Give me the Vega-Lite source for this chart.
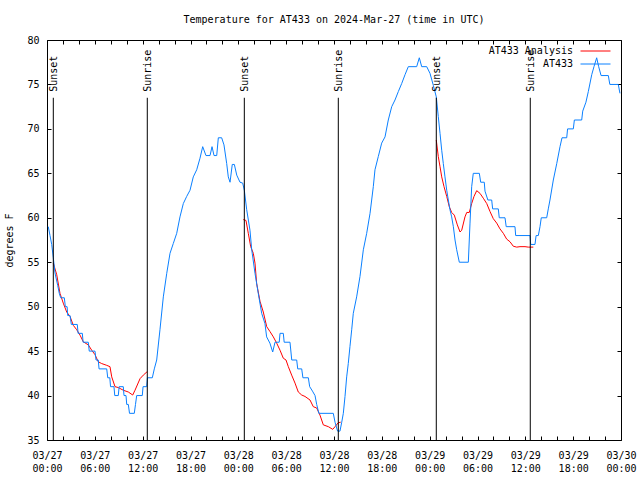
{
  "$schema": "https://vega.github.io/schema/vega-lite/v6.json",
  "width": 574,
  "height": 400,
  "autosize": {"type": "none"},
  "padding": {"left": 47, "top": 40, "right": 19, "bottom": 40},
  "background": "white",
  "title": {"text": "Temperature for AT433 on 2024-Mar-27 (time in UTC)", "font": "DejaVu Sans Mono", "fontSize": 10, "fontWeight": "normal", "color": "black", "offset": 10, "anchor": "middle"},
  "config": {
    "view": {"stroke": "black", "strokeWidth": 1},
    "axis": {"domain": false, "grid": false, "tickColor": "black", "tickSize": -4, "labelFont": "DejaVu Sans Mono", "labelFontSize": 10, "labelColor": "black", "titleFont": "DejaVu Sans Mono", "titleFontSize": 10, "titleFontWeight": "normal", "titleColor": "black", "labelFlush": false, "labelOverlap": false, "labelBound": false}
  },
  "datasets": {
    "obs": [
      {"hour": 0.16, "temp": 59}, {"hour": 0.38, "temp": 58}, {"hour": 0.59, "temp": 57}, {"hour": 0.79, "temp": 55.5}, {"hour": 1.0, "temp": 53.8}, {"hour": 1.34, "temp": 52.4}, {"hour": 1.54, "temp": 51.5}, {"hour": 1.72, "temp": 51}, {"hour": 2.17, "temp": 51}, {"hour": 2.3, "temp": 50}, {"hour": 2.52, "temp": 50}, {"hour": 2.6, "temp": 49}, {"hour": 2.89, "temp": 49}, {"hour": 3.05, "temp": 48}, {"hour": 3.8, "temp": 48}, {"hour": 3.9, "temp": 47}, {"hour": 4.43, "temp": 47}, {"hour": 4.53, "temp": 46}, {"hour": 5.18, "temp": 46}, {"hour": 5.3, "temp": 45}, {"hour": 6.02, "temp": 45}, {"hour": 6.15, "temp": 44},
      {"hour": 6.43, "temp": 44}, {"hour": 6.53, "temp": 43}, {"hour": 7.49, "temp": 43}, {"hour": 7.62, "temp": 42}, {"hour": 7.88, "temp": 42}, {"hour": 7.97, "temp": 41}, {"hour": 8.4, "temp": 41}, {"hour": 8.5, "temp": 40}, {"hour": 8.94, "temp": 40}, {"hour": 9.05, "temp": 41}, {"hour": 9.57, "temp": 41}, {"hour": 9.66, "temp": 40}, {"hour": 9.91, "temp": 40}, {"hour": 10.0, "temp": 39}, {"hour": 10.2, "temp": 39}, {"hour": 10.35, "temp": 38}, {"hour": 10.95, "temp": 38}, {"hour": 11.1, "temp": 39}, {"hour": 11.25, "temp": 40}, {"hour": 11.95, "temp": 40}, {"hour": 12.05, "temp": 41},
      {"hour": 12.5, "temp": 41}, {"hour": 12.6, "temp": 42}, {"hour": 13.21, "temp": 42}, {"hour": 13.46, "temp": 43}, {"hour": 13.76, "temp": 44}, {"hour": 14.17, "temp": 47.4}, {"hour": 14.59, "temp": 51.1}, {"hour": 15.02, "temp": 53.75}, {"hour": 15.43, "temp": 56}, {"hour": 15.84, "temp": 57.1}, {"hour": 16.27, "temp": 58.25}, {"hour": 16.68, "temp": 60.1}, {"hour": 17.1, "temp": 61.6}, {"hour": 17.52, "temp": 62.4}, {"hour": 17.94, "temp": 63.1}, {"hour": 18.35, "temp": 64.6}, {"hour": 18.78, "temp": 65.4}, {"hour": 19.19, "temp": 66.7},
      {"hour": 19.53, "temp": 68}, {"hour": 19.94, "temp": 67}, {"hour": 20.45, "temp": 67}, {"hour": 20.7, "temp": 68}, {"hour": 20.95, "temp": 67}, {"hour": 21.29, "temp": 67}, {"hour": 21.49, "temp": 69}, {"hour": 21.91, "temp": 69}, {"hour": 22.2, "temp": 68.2}, {"hour": 22.54, "temp": 66.1}, {"hour": 22.74, "temp": 64.6}, {"hour": 22.96, "temp": 64}, {"hour": 23.24, "temp": 66}, {"hour": 23.5, "temp": 66}, {"hour": 23.8, "temp": 64.8}, {"hour": 24.21, "temp": 64}, {"hour": 24.55, "temp": 63.9}, {"hour": 24.75, "temp": 63.1},
      {"hour": 25.05, "temp": 60.9}, {"hour": 25.46, "temp": 58.6}, {"hour": 25.68, "temp": 56.4}, {"hour": 26.09, "temp": 53.75}, {"hour": 26.5, "temp": 51.5}, {"hour": 26.93, "temp": 49.25}, {"hour": 27.34, "temp": 48.1}, {"hour": 27.55, "temp": 46.6}, {"hour": 27.96, "temp": 45.9}, {"hour": 28.31, "temp": 44.9}, {"hour": 28.6, "temp": 46}, {"hour": 29.13, "temp": 46}, {"hour": 29.23, "temp": 47}, {"hour": 29.64, "temp": 47}, {"hour": 29.75, "temp": 46}, {"hour": 30.48, "temp": 46},
      {"hour": 30.7, "temp": 44}, {"hour": 31.32, "temp": 44}, {"hour": 31.45, "temp": 43}, {"hour": 31.95, "temp": 43}, {"hour": 32.1, "temp": 42}, {"hour": 32.78, "temp": 42}, {"hour": 32.95, "temp": 41}, {"hour": 33.3, "temp": 40.5}, {"hour": 33.62, "temp": 40}, {"hour": 33.83, "temp": 39}, {"hour": 34.1, "temp": 38}, {"hour": 35.91, "temp": 38}, {"hour": 36.13, "temp": 37}, {"hour": 36.45, "temp": 36}, {"hour": 36.75, "temp": 36}, {"hour": 36.97, "temp": 37}, {"hour": 37.17, "temp": 38},
      {"hour": 37.38, "temp": 39.9}, {"hour": 37.59, "temp": 42.1}, {"hour": 37.79, "temp": 43.6}, {"hour": 38.0, "temp": 45.5}, {"hour": 38.22, "temp": 47.4}, {"hour": 38.42, "temp": 49.25}, {"hour": 38.84, "temp": 51.1}, {"hour": 39.26, "temp": 53.4}, {"hour": 39.68, "temp": 56.4}, {"hour": 40.1, "temp": 58.25}, {"hour": 40.52, "temp": 60.5}, {"hour": 40.93, "temp": 63.5}, {"hour": 41.14, "temp": 65.4}, {"hour": 41.56, "temp": 66.9}, {"hour": 41.98, "temp": 68.4}, {"hour": 42.4, "temp": 69.1}, {"hour": 42.81, "temp": 71},
      {"hour": 43.24, "temp": 72.5}, {"hour": 43.65, "temp": 73.25}, {"hour": 44.07, "temp": 74.2}, {"hour": 44.49, "temp": 75.1}, {"hour": 44.91, "temp": 76.1}, {"hour": 45.32, "temp": 77}, {"hour": 46.37, "temp": 77}, {"hour": 46.7, "temp": 78}, {"hour": 47.0, "temp": 77}, {"hour": 47.63, "temp": 77}, {"hour": 48.04, "temp": 76.25}, {"hour": 48.46, "temp": 74.9}, {"hour": 48.83, "temp": 73.6}, {"hour": 49.08, "temp": 71.4}, {"hour": 49.3, "temp": 69.5}, {"hour": 49.51, "temp": 67.6}, {"hour": 49.71, "temp": 66.1},
      {"hour": 49.92, "temp": 64.6}, {"hour": 50.14, "temp": 63.1}, {"hour": 50.34, "temp": 62}, {"hour": 50.55, "temp": 60.9}, {"hour": 50.76, "temp": 60.1}, {"hour": 50.97, "temp": 59}, {"hour": 51.18, "temp": 57.5}, {"hour": 51.39, "temp": 56.4}, {"hour": 51.72, "temp": 55}, {"hour": 52.85, "temp": 55}, {"hour": 53.06, "temp": 59.4}, {"hour": 53.27, "temp": 63.5}, {"hour": 53.47, "temp": 65}, {"hour": 54.23, "temp": 65}, {"hour": 54.4, "temp": 64}, {"hour": 54.85, "temp": 64}, {"hour": 54.94, "temp": 63},
      {"hour": 55.3, "temp": 62}, {"hour": 55.78, "temp": 62}, {"hour": 55.9, "temp": 61}, {"hour": 56.61, "temp": 61}, {"hour": 56.73, "temp": 60}, {"hour": 57.45, "temp": 60}, {"hour": 57.6, "temp": 59}, {"hour": 58.7, "temp": 59}, {"hour": 58.79, "temp": 58}, {"hour": 60.59, "temp": 58}, {"hour": 60.67, "temp": 57}, {"hour": 61.21, "temp": 57}, {"hour": 61.35, "temp": 58}, {"hour": 61.63, "temp": 58}, {"hour": 61.84, "temp": 59}, {"hour": 62.0, "temp": 60}, {"hour": 62.68, "temp": 60}, {"hour": 62.88, "temp": 61},
      {"hour": 63.09, "temp": 62}, {"hour": 63.51, "temp": 64.25}, {"hour": 63.94, "temp": 66.1}, {"hour": 64.35, "temp": 68}, {"hour": 64.6, "temp": 69}, {"hour": 65.19, "temp": 69}, {"hour": 65.3, "temp": 70}, {"hour": 66.02, "temp": 70}, {"hour": 66.15, "temp": 71}, {"hour": 67.07, "temp": 71}, {"hour": 67.2, "temp": 72}, {"hour": 67.6, "temp": 73}, {"hour": 67.9, "temp": 74.2}, {"hour": 68.33, "temp": 76.1}, {"hour": 68.61, "temp": 77}, {"hour": 68.95, "temp": 78}, {"hour": 69.2, "temp": 77}, {"hour": 69.5, "temp": 76},
      {"hour": 70.41, "temp": 76}, {"hour": 70.6, "temp": 75}, {"hour": 71.66, "temp": 75}, {"hour": 71.87, "temp": 74}
    ],
    "ana": [
      {"seg": 1, "hour": 0.79, "temp": 54.9}, {"seg": 1, "hour": 1.22, "temp": 53.6}, {"seg": 1, "hour": 1.63, "temp": 51.5}, {"seg": 1, "hour": 2.04, "temp": 50.4}, {"seg": 1, "hour": 2.47, "temp": 49.4}, {"seg": 1, "hour": 2.89, "temp": 48.9}, {"seg": 1, "hour": 3.3, "temp": 47.9}, {"seg": 1, "hour": 3.73, "temp": 47.4}, {"seg": 1, "hour": 4.14, "temp": 46.8}, {"seg": 1, "hour": 4.55, "temp": 46.05}, {"seg": 1, "hour": 5.18, "temp": 45.7}, {"seg": 1, "hour": 5.61, "temp": 45.1}, {"seg": 1, "hour": 6.02, "temp": 44.6}, {"seg": 1, "hour": 6.43, "temp": 43.8},
      {"seg": 1, "hour": 6.86, "temp": 43.6}, {"seg": 1, "hour": 7.49, "temp": 43.4}, {"seg": 1, "hour": 7.9, "temp": 43.25}, {"seg": 1, "hour": 8.12, "temp": 42.1}, {"seg": 1, "hour": 8.53, "temp": 41}, {"seg": 1, "hour": 8.94, "temp": 40.9}, {"seg": 1, "hour": 9.57, "temp": 40.6}, {"seg": 1, "hour": 10.2, "temp": 40.4}, {"seg": 1, "hour": 10.75, "temp": 40.06}, {"seg": 1, "hour": 11.04, "temp": 40.6}, {"seg": 1, "hour": 11.67, "temp": 41.9}, {"seg": 1, "hour": 12.08, "temp": 42.3}, {"seg": 1, "hour": 12.58, "temp": 42.7},
      {"seg": 2, "hour": 24.62, "temp": 59.8}, {"seg": 2, "hour": 24.96, "temp": 59.7}, {"seg": 2, "hour": 25.25, "temp": 58.25}, {"seg": 2, "hour": 25.55, "temp": 56.75}, {"seg": 2, "hour": 25.88, "temp": 56}, {"seg": 2, "hour": 26.09, "temp": 54.9}, {"seg": 2, "hour": 26.3, "temp": 52.6}, {"seg": 2, "hour": 26.72, "temp": 50.6}, {"seg": 2, "hour": 27.13, "temp": 49.4}, {"seg": 2, "hour": 27.56, "temp": 47.75}, {"seg": 2, "hour": 27.97, "temp": 47.2}, {"seg": 2, "hour": 28.39, "temp": 46.6}, {"seg": 2, "hour": 28.81, "temp": 45.9}, {"seg": 2, "hour": 29.23, "temp": 45.1}, {"seg": 2, "hour": 29.64, "temp": 44.2},
      {"seg": 2, "hour": 29.98, "temp": 44}, {"seg": 2, "hour": 30.27, "temp": 43.25}, {"seg": 2, "hour": 30.69, "temp": 42.3}, {"seg": 2, "hour": 31.11, "temp": 41.4}, {"seg": 2, "hour": 31.52, "temp": 40.4}, {"seg": 2, "hour": 31.95, "temp": 40.06}, {"seg": 2, "hour": 32.36, "temp": 39.9}, {"seg": 2, "hour": 32.99, "temp": 39.5}, {"seg": 2, "hour": 33.4, "temp": 38.75}, {"seg": 2, "hour": 33.83, "temp": 38.6}, {"seg": 2, "hour": 34.24, "temp": 37.8}, {"seg": 2, "hour": 34.66, "temp": 36.7}, {"seg": 2, "hour": 35.29, "temp": 36.5}, {"seg": 2, "hour": 35.84, "temp": 36.2}, {"seg": 2, "hour": 36.13, "temp": 36.5}, {"seg": 2, "hour": 36.54, "temp": 36.95}, {"seg": 2, "hour": 36.84, "temp": 37},
      {"seg": 3, "hour": 48.83, "temp": 68.75}, {"seg": 3, "hour": 49.08, "temp": 66.9}, {"seg": 3, "hour": 49.3, "temp": 65.75}, {"seg": 3, "hour": 49.51, "temp": 64.6}, {"seg": 3, "hour": 49.8, "temp": 63.5}, {"seg": 3, "hour": 50.14, "temp": 62.4}, {"seg": 3, "hour": 50.46, "temp": 61.25}, {"seg": 3, "hour": 50.76, "temp": 60.6}, {"seg": 3, "hour": 51.09, "temp": 60.3}, {"seg": 3, "hour": 51.47, "temp": 59.2}, {"seg": 3, "hour": 51.81, "temp": 58.4}, {"seg": 3, "hour": 52.02, "temp": 58.6}, {"seg": 3, "hour": 52.43, "temp": 60.1}, {"seg": 3, "hour": 52.65, "temp": 60.6}, {"seg": 3, "hour": 52.97, "temp": 60.6}, {"seg": 3, "hour": 53.27, "temp": 61.6},
      {"seg": 3, "hour": 53.56, "temp": 62.4}, {"seg": 3, "hour": 53.9, "temp": 63.05}, {"seg": 3, "hour": 54.31, "temp": 62.75}, {"seg": 3, "hour": 54.73, "temp": 62.2}, {"seg": 3, "hour": 55.16, "temp": 61.6}, {"seg": 3, "hour": 55.57, "temp": 60.7}, {"seg": 3, "hour": 55.98, "temp": 59.9}, {"seg": 3, "hour": 56.41, "temp": 59.4}, {"seg": 3, "hour": 56.82, "temp": 58.75}, {"seg": 3, "hour": 57.24, "temp": 58.25}, {"seg": 3, "hour": 57.66, "temp": 57.6}, {"seg": 3, "hour": 58.08, "temp": 57.3}, {"seg": 3, "hour": 58.49, "temp": 56.8}, {"seg": 3, "hour": 58.92, "temp": 56.7}, {"seg": 3, "hour": 59.33, "temp": 56.75}, {"seg": 3, "hour": 59.96, "temp": 56.75}, {"seg": 3, "hour": 60.37, "temp": 56.7}, {"seg": 3, "hour": 61.0, "temp": 56.7}
    ],
    "sun": [
      {"hour": 0.79, "event": "Sunset"}, {"hour": 12.58, "event": "Sunrise"}, {"hour": 24.75, "event": "Sunset"}, {"hour": 36.54, "event": "Sunrise"}, {"hour": 48.83, "event": "Sunset"}, {"hour": 60.62, "event": "Sunrise"}
    ]
  },
  "layer": [
    {
      "layer": [
        {
          "data": {"name": "ana"},
          "mark": {"type": "line", "strokeWidth": 1, "interpolate": "linear"},
          "encoding": {
            "x": {"field": "hour", "type": "quantitative", "scale": {"domain": [0, 72], "nice": false, "zero": false},
              "axis": {"title": null, "values": [0,6,12,18,24,30,36,42,48,54,60,66,72], "labelOverlap": false, "labelPadding": 14, "labelLineHeight": 13, "labelExpr": "['03/' + (27 + floor(datum.value / 24)), ((datum.value % 24) < 10 ? '0' : '') + (datum.value % 24) + ':00']"}},
            "y": {"field": "temp", "type": "quantitative", "scale": {"domain": [35, 80], "nice": false, "zero": false},
              "axis": {"title": "degrees F", "values": [35,40,45,50,55,60,65,70,75,80], "labelOverlap": false, "labelPadding": 12, "titlePadding": 12}},
            "color": {"datum": "AT433 Analysis", "type": "nominal",
              "scale": {"domain": ["AT433 Analysis", "AT433"], "range": ["#ff0000", "#0a80ff"]},
              "legend": {"title": null, "orient": "none", "legendX": 543, "legendY": 5.5, "padding": 0, "symbolType": "M-3,0H3", "symbolSize": 100, "symbolStrokeWidth": 1, "labelAlign": "right", "labelOffset": -28, "rowPadding": 2, "labelFont": "DejaVu Sans Mono", "labelFontSize": 10, "labelColor": "black"}},
            "detail": {"field": "seg", "type": "nominal"}
          }
        },
        {
          "data": {"name": "obs"},
          "mark": {"type": "line", "strokeWidth": 1, "interpolate": "linear"},
          "encoding": {
            "x": {"field": "hour", "type": "quantitative"},
            "y": {"field": "temp", "type": "quantitative"},
            "color": {"datum": "AT433", "type": "nominal"}
          }
        },
        {
          "data": {"name": "sun"},
          "mark": {"type": "rule", "color": "black", "strokeWidth": 1},
          "encoding": {
            "x": {"field": "hour", "type": "quantitative"},
            "y": {"datum": 73.5},
            "y2": {"datum": 35}
          }
        },
        {
          "data": {"name": "sun"},
          "mark": {"type": "text", "angle": 270, "align": "left", "baseline": "middle", "dx": 6, "dy": 1, "font": "DejaVu Sans Mono", "fontSize": 10, "color": "black"},
          "encoding": {
            "x": {"field": "hour", "type": "quantitative"},
            "y": {"datum": 73.5},
            "text": {"field": "event"}
          }
        }
      ]
    },
    {
      "data": {"name": "sun"},
      "mark": {"type": "point", "opacity": 0},
      "encoding": {
        "x": {"field": "hour", "type": "quantitative", "scale": {"domain": [0, 72], "nice": false, "zero": false},
          "axis": {"orient": "top", "title": null, "labels": false, "values": [0,2,4,6,8,10,12,14,16,18,20,22,24,26,28,30,32,34,36,38,40,42,44,46,48,50,52,54,56,58,60,62,64,66,68,70,72]}},
        "y": {"datum": 50, "type": "quantitative", "scale": {"domain": [35, 80], "nice": false, "zero": false},
          "axis": {"orient": "right", "title": null, "labels": false, "values": [35,40,45,50,55,60,65,70,75,80]}}
      }
    },
    {
      "data": {"name": "sun"},
      "mark": {"type": "point", "opacity": 0},
      "encoding": {
        "x": {"field": "hour", "type": "quantitative", "scale": {"domain": [0, 72], "nice": false, "zero": false},
          "axis": {"orient": "bottom", "title": null, "labels": false, "values": [2,4,8,10,14,16,20,22,26,28,32,34,38,40,44,46,50,52,56,58,62,64,68,70]}},
        "y": {"datum": 50, "type": "quantitative", "scale": {"domain": [35, 80], "nice": false, "zero": false}, "axis": null}
      }
    }
  ],
  "resolve": {"scale": {"x": "independent", "y": "independent"}, "axis": {"x": "independent", "y": "independent"}}
}
